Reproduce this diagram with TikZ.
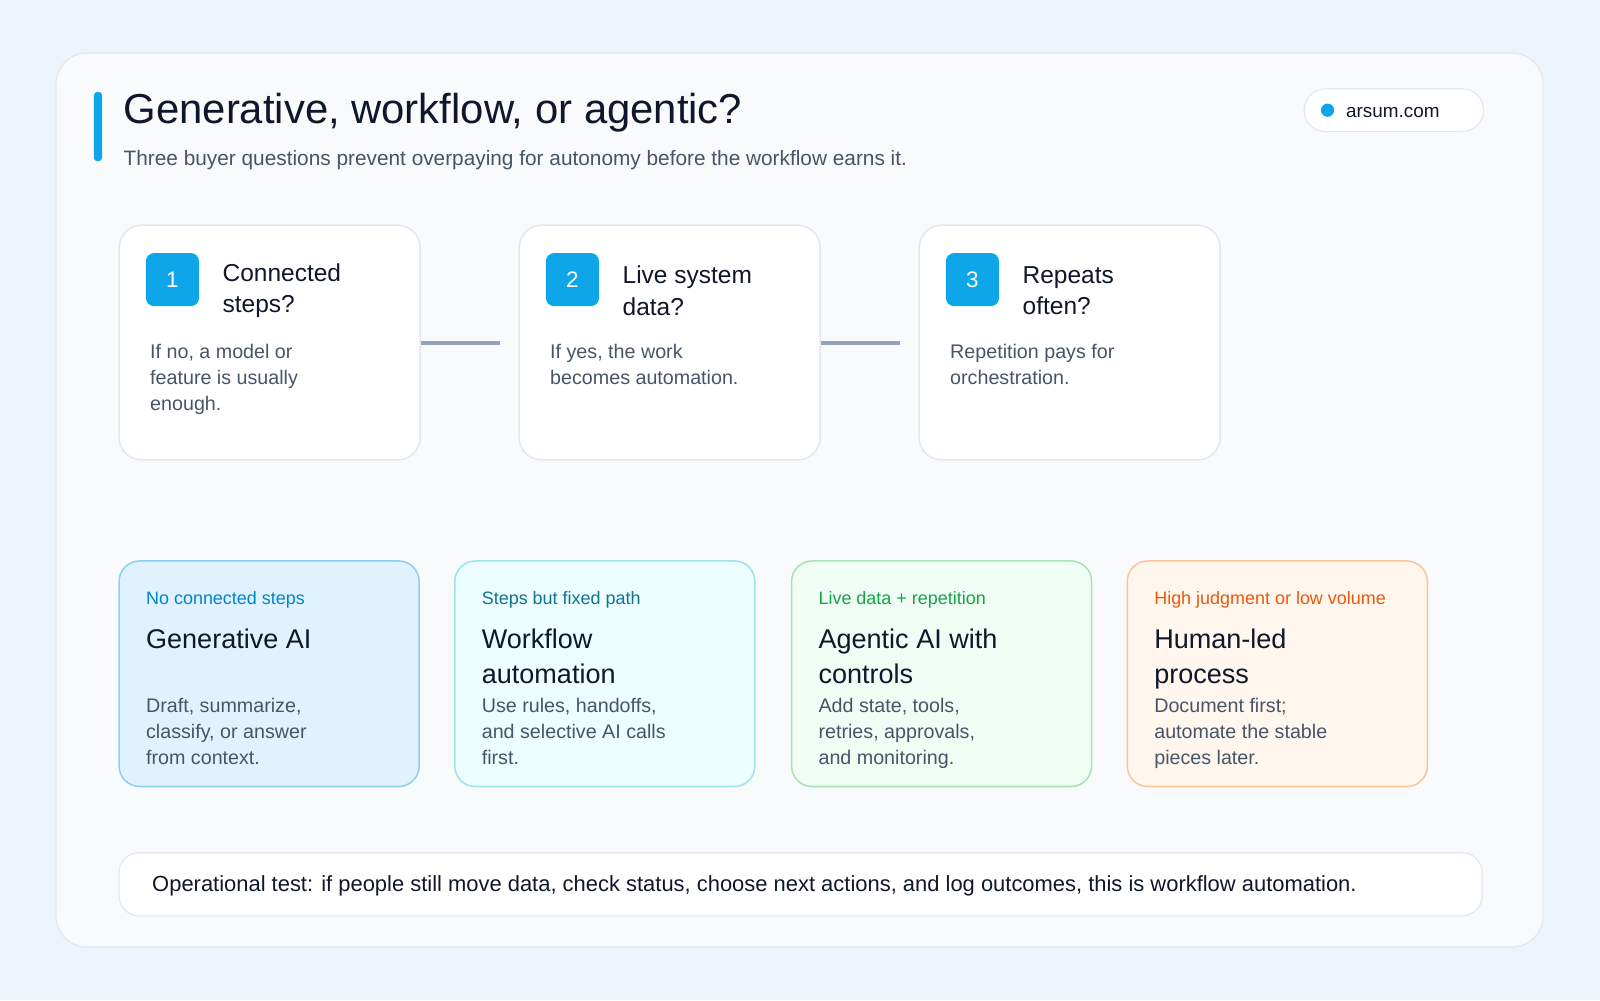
\documentclass[tikz,border=0pt]{standalone}
\usepackage{fontspec}
\setmainfont{Liberation Sans}
\definecolor{bg}{HTML}{EEF4FB}
\definecolor{card}{HTML}{F8FAFC}
\definecolor{bord}{HTML}{E2E8F0}
\definecolor{ink}{HTML}{0F172A}
\definecolor{body}{HTML}{475569}
\definecolor{accent}{HTML}{0EA5E9}
\definecolor{conn}{HTML}{94A3B8}
\definecolor{bfill}{HTML}{E0F2FE}\definecolor{bline}{HTML}{8FD0EE}\definecolor{blab}{HTML}{0284C7}
\definecolor{cfill}{HTML}{ECFEFF}\definecolor{cline}{HTML}{9EE3EC}\definecolor{clab}{HTML}{0E7490}
\definecolor{gfill}{HTML}{F0FDF4}\definecolor{gline}{HTML}{A7E3B5}\definecolor{glab}{HTML}{16A34A}
\definecolor{ofill}{HTML}{FFF7ED}\definecolor{oline}{HTML}{FBC49A}\definecolor{olab}{HTML}{EA580C}
\tikzset{
  txt/.style={anchor=west,inner sep=0pt,align=left},
  stepcard/.style={draw=bord,line width=1.5pt,fill=white,rounded corners=22pt},
  badge/.style={fill=accent,rounded corners=8pt,minimum width=52pt,minimum height=52pt,inner sep=0pt,text=white,font=\fontsize{22}{26}\selectfont},
  stitle/.style={txt,text=ink,font=\fontsize{24}{31}\selectfont},
  sbody/.style={txt,text=body,font=\fontsize{19.3}{25.5}\selectfont},
  olab/.style={txt,font=\fontsize{17.6}{20}\selectfont},
  otitle/.style={txt,text=ink,font=\fontsize{26.5}{34}\selectfont},
}
\begin{document}
\begin{tikzpicture}[x=1pt,y=-1pt]
\fill[bg] (0,0) rectangle (1568,980);
\useasboundingbox (0,0) rectangle (1568,980);
\draw[bord,fill=card,line width=1.2pt,rounded corners=30pt] (55,52) rectangle (1512,928);
\fill[accent,rounded corners=3.5pt] (92,90) rectangle (100,158);
\node[txt,text=ink,font=\fontsize{41}{46}\selectfont] (title) at (121,110) {Generative, workflow, or agentic?};
\node[txt,text=body,font=\fontsize{20.4}{24}\selectfont] (sub) at (121,157) {Three buyer questions prevent overpaying for autonomy before the workflow earns it.};
\draw[bord,fill=white,line width=1.2pt,rounded corners=21pt] (1278,87) rectangle (1454,129);
\fill[accent] (1301,108) circle (6.5);
\node[txt,text=ink,font=\fontsize{18.5}{22}\selectfont] (pill) at (1319,110) {arsum.com};
% step cards
\foreach \i/\x/\n/\ta/\tb/\body in {
  1/116/1/Connected/steps?/{If no, a model or\\feature is usually\\enough.},
  2/508/2/Live system/data?/{If yes, the work\\becomes automation.},
  3/900/3/Repeats/often?/{Repetition pays for\\orchestration.}}{
  \node[stepcard,minimum width=295pt,minimum height=230pt,anchor=north west] (s\i) at (\x,220) {};
  \node[badge] (b\i) at (\x+53,274) {\n};
  \node[stitle] (t\i) at (\x+102,285) {\ta\\\tb};
  \node[sbody,anchor=north west] (d\i) at (\x+31,337) {\body};
}
\coordinate (e1) at (490,334);
\coordinate (e2) at (882,334);
\draw[conn,line width=4pt] (s1.east) -- (e1 |- s1.east);
\draw[conn,line width=4pt] (s2.east) -- (e2 |- s2.east);
% outcome cards
\foreach \i/\x/\f/\l/\lc/\lab/\ttl/\body in {
  1/116/bfill/bline/blab/No connected steps/{Generative AI\\\strut}/{Draft, summarize,\\classify, or answer\\from context.},
  2/445/cfill/cline/clab/Steps but fixed path/{Workflow\\automation}/{Use rules, handoffs,\\and selective AI calls\\first.},
  3/775/gfill/gline/glab/Live data + repetition/{Agentic AI with\\controls}/{Add state, tools,\\retries, approvals,\\and monitoring.},
  4/1104/ofill/oline/olab/High judgment or low volume/{Human-led\\process}/{Document first;\\automate the stable\\pieces later.}}{
  \node[draw=\l,fill=\f,line width=1.5pt,rounded corners=20pt,minimum width=294pt,minimum height=221pt,anchor=north west] (o\i) at (\x,549) {};
  \node[olab,text=\lc] (ol\i) at (\x+27,588) {\lab};
  \node[otitle,anchor=north west] (ot\i) at (\x+27,616) {\ttl};
  \node[sbody,anchor=north west] (od\i) at (\x+27,684) {\body};
}
\node[draw=bord,fill=white,line width=1.2pt,rounded corners=20pt,minimum width=1336pt,minimum height=62pt,anchor=north west] (bar) at (116,835) {};
\node[txt,text=ink,font=\fontsize{21.5}{24}\selectfont] (bt) at (149,868) {Operational test: if people still move data, check status, choose next actions, and log outcomes, this is workflow automation.};
\end{tikzpicture}
\end{document}
